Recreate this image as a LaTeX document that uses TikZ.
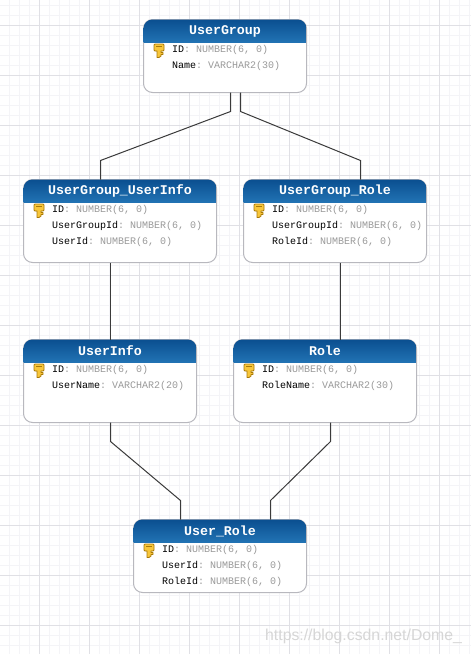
\documentclass[tikz,border=0pt]{standalone}
\usepackage{fontspec}
\setmainfont{Liberation Sans}
\setmonofont{Liberation Mono}
\definecolor{minorgrid}{HTML}{F4F4F7}
\definecolor{majorgrid}{HTML}{E0E0E5}
\definecolor{typegray}{HTML}{9A9A9A}
\definecolor{boxedge}{HTML}{B8B8BE}
\definecolor{headtop}{HTML}{0B4F90}
\definecolor{headbot}{HTML}{2273B4}
\definecolor{keyfill}{HTML}{F7C63A}
\definecolor{keyedge}{HTML}{A87808}
\definecolor{linkcol}{HTML}{3A3A3A}
\tikzset{
  erbody/.style={draw=boxedge,line width=1pt,fill=white,rounded corners=9pt,anchor=north west,inner sep=0pt,outer sep=0pt},
  ertitle/.style={text=white,font=\ttfamily\bfseries\fontsize{13.3}{15}\selectfont,inner sep=0pt},
  errow/.style={anchor=west,inner sep=0pt,font=\ttfamily\fontsize{10}{12}\selectfont,text=black},
  erlink/.style={draw=linkcol,line width=1pt},
  keyicon/.style={fill=keyfill,draw=keyedge,line width=0.8pt,line join=round},
  watermark/.style={text=black!16,font=\fontsize{15.8}{20}\selectfont,inner sep=0pt,anchor=west}
}
\newcommand{\ftype}[1]{\textcolor{typegray}{#1}}
% name, x, y, w, h, title
\newcommand{\erbox}[6]{%
  \node[erbody,minimum width=#4pt,minimum height=#5pt] (#1) at (#2,#3) {};
  \begin{scope}
    \clip[rounded corners=9pt] (#2,#3) rectangle ++(#4,#5);
    \shade[top color=headtop,bottom color=headbot] (#2,#3) rectangle ++(#4,23);
  \end{scope}
  \node[ertitle] (#1title) at ([yshift=-11.5pt]#1.north) {#6};
  \begin{scope}[shift={(#2+10,#3+24)}]
    \path[keyicon] (0.5,1.5) -- (1.5,0.5) -- (9.5,0.5) -- (10.5,1.5) -- (10.5,6.5) -- (9.5,7.5) -- (7.5,7.5)
      -- (7.5,9) -- (9.5,9) -- (9.5,11) -- (7.5,11) -- (7.5,12.5) -- (5.5,14) -- (3.5,14) -- (3.5,7.5) -- (1.5,7.5) -- (0.5,6.5) -- cycle;
    \fill[keyedge] (2.5,2.5) rectangle (8.5,3.7);
  \end{scope}
}
\newcommand{\errowat}[5]{\node[errow] (#1) at ([shift={(28.5pt,-#2pt)}]#3.north west) {#4\ftype{: #5}};}
\begin{document}
\begin{tikzpicture}[x=1pt,y=-1pt]
\useasboundingbox (0,0) rectangle (471,654);
\fill[white] (0,0) rectangle (471,654);
\foreach \gx in {9,19,...,469} \draw[minorgrid,line width=0.8pt] (\gx,0) -- (\gx,654);
\foreach \gy in {5,15,...,645} \draw[minorgrid,line width=0.8pt] (0,\gy) -- (471,\gy);
\foreach \gx in {39,89,...,439} \draw[majorgrid,line width=0.9pt] (\gx,0) -- (\gx,654);
\foreach \gy in {25,75,...,625} \draw[majorgrid,line width=0.9pt] (0,\gy) -- (471,\gy);

\erbox{ug}{143.5}{19.5}{163}{73}{UserGroup}
\errowat{ugA}{30.5}{ug}{ID}{NUMBER(6, 0)}
\errowat{ugB}{46.5}{ug}{Name}{VARCHAR2(30)}

\erbox{ugui}{23.5}{179.5}{193}{83}{UserGroup\_UserInfo}
\errowat{uguiA}{30.5}{ugui}{ID}{NUMBER(6, 0)}
\errowat{uguiB}{46.5}{ugui}{UserGroupId}{NUMBER(6, 0)}
\errowat{uguiC}{62.5}{ugui}{UserId}{NUMBER(6, 0)}

\erbox{ugr}{243.5}{179.5}{183}{83}{UserGroup\_Role}
\errowat{ugrA}{30.5}{ugr}{ID}{NUMBER(6, 0)}
\errowat{ugrB}{46.5}{ugr}{UserGroupId}{NUMBER(6, 0)}
\errowat{ugrC}{62.5}{ugr}{RoleId}{NUMBER(6, 0)}

\erbox{ui}{23.5}{339.5}{173}{83}{UserInfo}
\errowat{uiA}{30.5}{ui}{ID}{NUMBER(6, 0)}
\errowat{uiB}{46.5}{ui}{UserName}{VARCHAR2(20)}

\erbox{ro}{233.5}{339.5}{183}{83}{Role}
\errowat{roA}{30.5}{ro}{ID}{NUMBER(6, 0)}
\errowat{roB}{46.5}{ro}{RoleName}{VARCHAR2(30)}

\erbox{ur}{133.5}{519.5}{173}{73}{User\_Role}
\errowat{urA}{30.5}{ur}{ID}{NUMBER(6, 0)}
\errowat{urB}{46.5}{ur}{UserId}{NUMBER(6, 0)}
\errowat{urC}{62.5}{ur}{RoleId}{NUMBER(6, 0)}

\draw[erlink] ([xshift=87pt]ug.south west) -- ++(0,19) -- ([shift={(77pt,19pt)}]ugui.north west) -- ([xshift=77pt]ugui.north west);
\draw[erlink] ([xshift=97pt]ug.south west) -- ++(0,19) -- ([shift={(117pt,19pt)}]ugr.north west) -- ([xshift=117pt]ugr.north west);
\draw[erlink] ([xshift=87pt]ugui.south west) -- ([xshift=87pt]ui.north west);
\draw[erlink] ([xshift=97pt]ugr.south west) -- ([xshift=107pt]ro.north west);
\draw[erlink] ([xshift=87pt]ui.south west) -- ++(0,19) -- ([shift={(47pt,19pt)}]ur.north west) -- ([xshift=47pt]ur.north west);
\draw[erlink] ([xshift=97pt]ro.south west) -- ++(0,19) -- ([shift={(137pt,19pt)}]ur.north west) -- ([xshift=137pt]ur.north west);

\node[watermark] (wm) at (265,636) {https://blog.csdn.net/Dome\_};
\end{tikzpicture}
\end{document}
